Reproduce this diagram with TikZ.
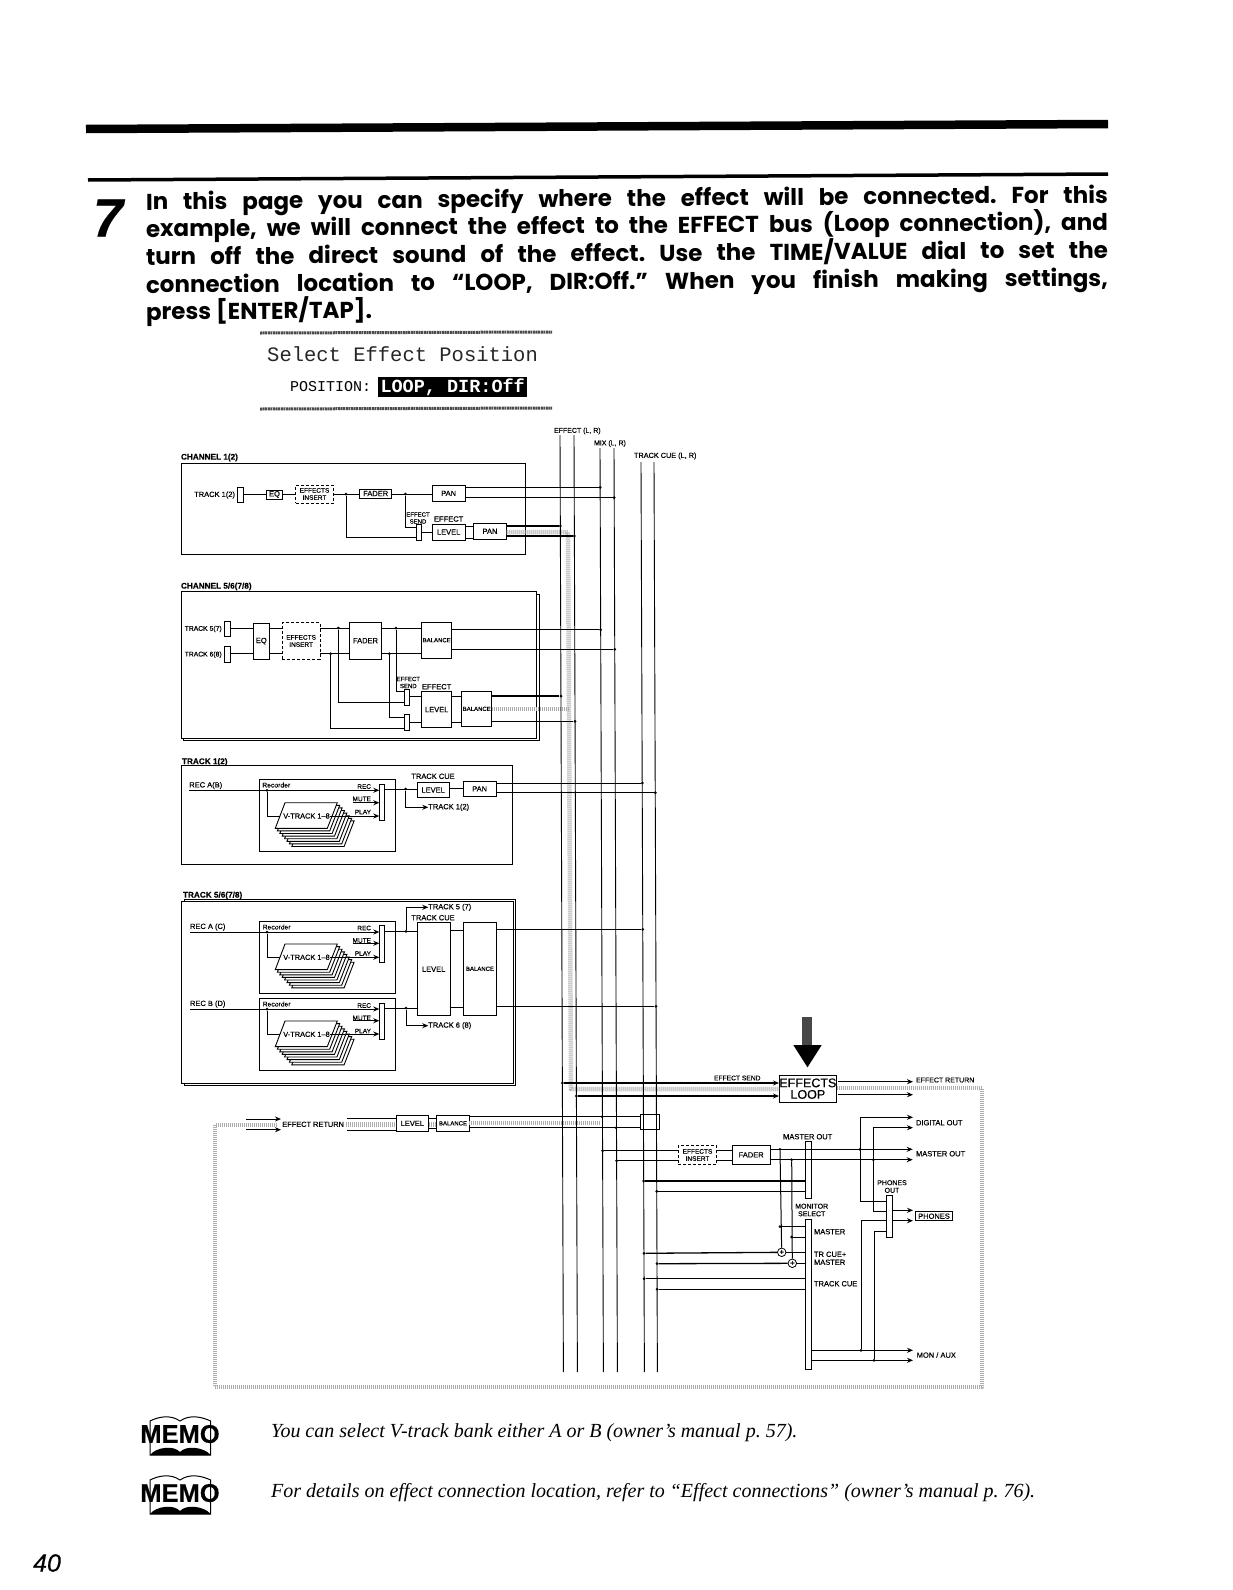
\documentclass[tikz,border=0pt]{standalone}
\usepackage{fontspec}
\setmainfont{Liberation Sans}[RawFeature={embolden=0.35}]
\newfontfamily\headfont{Poppins}
\newfontfamily\lcdfont{Liberation Mono}
\newfontfamily\memofont{Liberation Serif}
\usetikzlibrary{arrows.meta,calc}
\tikzset{
  wire/.style={draw=black,line width=1pt},
  wireh/.style={draw=black,line width=1.3pt},
  arw/.style={draw=black,line width=1pt,-{Stealth[length=6pt,width=5pt]}},
  boxs/.style={draw=black,line width=1pt,fill=white,inner sep=0pt,outer sep=0pt,align=center,font=\fontsize{7.5}{8}\selectfont},
  tiny/.style={font=\fontsize{6}{6.5}\selectfont},
  dashedbox/.style={densely dashed,line width=1pt,font=\fontsize{6.5}{7.2}\selectfont},
  frame/.style={draw=black,line width=1pt,fill=none},
  framew/.style={draw=black,line width=1pt,fill=white},
  lab/.style={inner sep=0pt,outer sep=0pt,anchor=west,align=left,font=\fontsize{7.5}{8}\selectfont},
  labs/.style={lab,align=center,anchor=center,font=\fontsize{6}{7}\selectfont},
  labt/.style={lab,font=\bfseries\fontsize{8.2}{9}\selectfont},
  dot/.style={circle,fill=black,inner sep=0pt,minimum size=3pt},
  band/.style={draw=black!32,line width=4.5pt,dash pattern=on .9pt off 1.1pt,line join=round},
  summer/.style={circle,draw=black,line width=.8pt,fill=white,inner sep=0pt,minimum size=8.5pt,font=\fontsize{8}{8}\selectfont},
  card/.style={draw=black,line width=.9pt,fill=white},
  headline/.style={inner sep=0pt,outer sep=0pt,anchor=base west,rotate=0.42,font=\headfont\bfseries\fontsize{23}{26}\selectfont},
  memoline/.style={inner sep=0pt,anchor=west,font=\memofont\itshape\fontsize{20}{22}\selectfont},
  vstack/.pic={
    \foreach \i in {7,6,...,1}
      \draw[card] ({\i*2.4},{\i*2.6}) -- ++(52.3,0) -- ++(-10,25.6) -- ++(-52.3,0) -- cycle;
    \draw[card] (0,0) -- (52.3,0) -- (42.3,25.6) -- (-9.7,25.6) -- cycle;
    \node[inner sep=0pt,font=\fontsize{7.4}{8}\selectfont] (-t) at (21.5,13.3) {V-TRACK 1--8};
  },
  memologo/.pic={
    \draw[line width=1pt] (0,38) -- (0,4) .. controls (8,0) and (20,-3) .. (30,4) .. controls (40,-3) and (52,0) .. (60.7,4) -- (60.7,38) -- cycle;
    \fill (0,38) .. controls (6,30) and (24,28) .. (30,35) .. controls (36,28) and (54,30) .. (60.7,38) -- cycle;
    \node[inner sep=0pt,font=\bfseries\fontsize{25.5}{25}\selectfont] (-t) at (30,17) {MEMO};
  }
}
\newcommand\bx[7][]{%
  \pgfmathsetmacro\bxcx{(#3+#5)/2}\pgfmathsetmacro\bxcy{(#4+#6)/2}%
  \pgfmathsetmacro\bxw{#5-#3}\pgfmathsetmacro\bxh{#6-#4}%
  \node[boxs,#1,minimum width=\bxw pt,minimum height=\bxh pt] (#2) at (\bxcx,\bxcy) {#7};}
\newcommand\lb[4][lab]{\node[#1] (#2) at (#3) {#4};}
\newcommand\jn[2]{\node[dot] (#1) at (#2) {};}
\begin{document}
\frenchspacing
\begin{tikzpicture}[x=1pt,y=-1pt]
\useasboundingbox (0,0) rectangle (1233,1590);

% page rules and heading
\coordinate (ruleA) at (86,129);\coordinate (ruleB) at (1108,124);
\coordinate (ruleC) at (88,180);\coordinate (ruleD) at (1108,174);
\draw[line width=8.5pt] (ruleA) -- (ruleB);
\draw[line width=3.5pt] (ruleC) -- (ruleD);
\node[inner sep=0pt,font=\bfseries\itshape\fontsize{54}{54}\selectfont] (seven) at (108,218) {7};
\node[headline] (hl1) at (146,210) {\makebox[962pt][s]{In this page you can specify where the effect will be connected. For this}};
\node[headline] (hl2) at (146,237) {\makebox[962pt][s]{example, we will connect the effect to the EFFECT bus (Loop connection), and}};
\node[headline] (hl3) at (146,265) {\makebox[962pt][s]{turn off the direct sound of the effect. Use the TIME/VALUE dial to set the}};
\node[headline] (hl4) at (146,293) {\makebox[962pt][s]{connection location to “LOOP, DIR:Off.” When you finish making settings,}};
\node[headline] (hl5) at (146,320) {press [ENTER/TAP].};

% LCD
\coordinate (lcdA) at (260,333);\coordinate (lcdB) at (552,332);
\coordinate (lcdC) at (260,409);\coordinate (lcdD) at (552,408);
\draw[line width=3pt,draw=black!70,dash pattern=on 2pt off .6pt] (lcdA) -- (lcdB);
\draw[line width=3pt,draw=black!70,dash pattern=on 2pt off .6pt] (lcdC) -- (lcdD);
\node[inner sep=0pt,anchor=west,font=\lcdfont\fontsize{20.5}{22}\selectfont,text=black!85] (lcd1) at (267,354) {Select Effect Position};
\node[inner sep=0pt,anchor=west,font=\lcdfont\fontsize{15}{16}\selectfont] (lcd2) at (290,387) {POSITION:};
\node[fill=black,text=white,inner sep=1.5pt,anchor=west,font=\lcdfont\bfseries\fontsize{18.5}{19}\selectfont,minimum height=15pt,minimum width=149pt] (lcd3) at (378,387) {LOOP, DIR:Off};

% bus labels
\lb[lab]{lbEff}{554,431}{\fontsize{7}{7.5}\selectfont EFFECT (L, R)}
\lb[lab]{lbMix}{594,443.5}{\fontsize{7}{7.5}\selectfont MIX (L, R)}
\lb[lab]{lbCue}{634,456}{\fontsize{7.3}{7.5}\selectfont TRACK CUE (L, R)}

% frames
\bx[framew]{fc1}{181}{463}{525}{554}{}
\lb[labt]{tc1}{181,457.5}{CHANNEL 1(2)}
\bx[framew]{fc5o}{183.5}{594}{539}{740.5}{}
\bx[framew]{fc5}{181}{591.7}{536.7}{738}{}
\lb[labt]{tc5}{181,586.5}{CHANNEL 5/6(7/8)}
\bx[framew]{ft1}{181}{765.7}{512.7}{864.3}{}
\lb[labt]{tt1}{182,762}{TRACK 1(2)}
\bx[framew]{ft5o}{184}{899}{515.7}{1085.5}{}
\bx[framew]{ft5}{181.7}{901.7}{513.3}{1083.3}{}
\lb[labt]{tt5}{183,895.5}{TRACK 5/6(7/8)}

% ---- CHANNEL 1
\coordinate (ca) at (0,494);\coordinate (cb) at (0,537.7);\coordinate (cc) at (0,527.3);\coordinate (cd) at (0,532);
\coordinate (ce) at (0,526);\coordinate (cf) at (0,538);
\lb[lab,anchor=east]{c1tl}{235,495}{TRACK 1(2)}
\bx{c1t}{237.7}{487}{243}{502}{}
\bx{c1eq}{266.7}{490}{282.3}{499}{EQ}
\bx[dashedbox]{c1ins}{295.7}{485}{333.3}{503}{EFFECTS\\INSERT}
\bx{c1fad}{359.7}{489}{391.7}{498}{FADER}
\bx{c1pan}{432.3}{485.7}{465}{501}{PAN}
\bx{c1sw}{416}{524.3}{421.7}{540}{}
\bx{c1lev}{432.3}{524}{465}{540}{LEVEL}
\bx{c1pan2}{473.3}{523.3}{506.7}{539.3}{PAN}
\lb[labs]{c1s}{418,518}{EFFECT\\SEND}
\lb[lab,anchor=center]{c1e}{448.7,519}{EFFECT}
\jn{c1j1}{346,494}\jn{c1j2}{405.3,494}
\draw[wire] (c1t.east|-ca) -- (c1eq.west|-ca);
\draw[wire] (c1eq.east|-ca) -- (c1ins.west|-ca);
\draw[wire] (c1ins.east|-ca) -- (c1fad.west|-ca);
\draw[wire] (c1fad.east|-ca) -- (c1pan.west|-ca);
\draw[wire] (c1j1) |- (c1sw.west|-cb);
\draw[wire] (c1j2) |- (c1sw.west|-cc);
\draw[wire] (c1sw.east|-cd) -- (c1lev.west|-cd);
\draw[wire] (c1lev.east|-ce) -- (c1pan2.west|-ce);
\draw[wire] (c1lev.east|-cf) -- (c1pan2.west|-cf);

% ---- CHANNEL 5/6
\coordinate (da) at (0,628);\coordinate (db) at (0,653.7);
\lb[lab,anchor=east]{c5tl}{221.7,629}{\fontsize{6.8}{7}\selectfont TRACK 5(7)}
\lb[lab,anchor=east]{c6tl}{221.7,654.7}{\fontsize{6.8}{7}\selectfont TRACK 6(8)}
\bx{c5t}{224}{621}{230}{636.7}{}
\bx{c6t}{224}{646.7}{230}{662.3}{}
\bx{c5eq}{253.3}{623}{269.3}{659.3}{EQ}
\bx[dashedbox]{c5ins}{282.3}{622.7}{320}{659.3}{EFFECTS\\INSERT}
\bx{c5fad}{349.3}{622.3}{381.7}{659}{FADER}
\bx[tiny]{c5bal}{421.7}{622}{451.7}{658.3}{BALANCE}
\bx{c5sa}{404.3}{689.3}{409.7}{705}{}
\bx{c5sb}{404.3}{714.7}{409.7}{730.3}{}
\bx{c5lev}{421.7}{691.7}{451.7}{727.3}{LEVEL}
\bx[tiny]{c5bal2}{461.7}{691}{491.7}{726.7}{BALANCE}
\lb[labs]{c5s}{408.3,682.5}{EFFECT\\SEND}
\lb[lab,anchor=center]{c5e}{436.7,686.7}{EFFECT}
\jn{c5j1}{338.3,628}\jn{c5j2}{330.7,653.7}\jn{c5j3}{396,628}\jn{c5j4}{389.3,653.7}
\coordinate (dc) at (0,691.7);\coordinate (dd) at (0,702.3);\coordinate (de) at (0,717.7);\coordinate (df) at (0,728);
\coordinate (dg) at (0,696.7);\coordinate (dh) at (0,722.3);
\draw[wire] (c5t.east|-da) -- (c5eq.west|-da);
\draw[wire] (c6t.east|-db) -- (c5eq.west|-db);
\draw[wire] (c5eq.east|-da) -- (c5ins.west|-da);
\draw[wire] (c5eq.east|-db) -- (c5ins.west|-db);
\draw[wire] (c5ins.east|-da) -- (c5fad.west|-da);
\draw[wire] (c5ins.east|-db) -- (c5fad.west|-db);
\draw[wire] (c5fad.east|-da) -- (c5bal.west|-da);
\draw[wire] (c5fad.east|-db) -- (c5bal.west|-db);
\draw[wire] (c5j3) |- (c5sa.west|-dc);
\draw[wire] (c5j1) |- (c5sa.west|-dd);
\draw[wire] (c5j4) |- (c5sb.west|-de);
\draw[wire] (c5j2) |- (c5sb.west|-df);
\draw[wire] (c5sa.east|-dg) -- (c5lev.west|-dg);
\draw[wire] (c5sb.east|-dh) -- (c5lev.west|-dh);
\draw[wire] (c5lev.east|-dg) -- (c5bal2.west|-dg);
\draw[wire] (c5lev.east|-dh) -- (c5bal2.west|-dh);

% ---- TRACK 1(2)
\lb[lab]{t1in}{189.3,785.5}{REC A(B)}
\bx{t1rec}{259}{779}{395.7}{851.7}{}
\lb[lab]{t1rl}{262.3,785}{\fontsize{6.8}{7}\selectfont Recorder}
\pic (t1st) at (285,802.7) {vstack};
\bx{t1bar}{379.3}{784.3}{384.7}{820.7}{}
\lb[lab,anchor=east]{t1r}{371,786.5}{\fontsize{6.5}{7}\selectfont REC}
\lb[lab,anchor=east]{t1m}{371,799}{\fontsize{6.5}{7}\selectfont MUTE}
\lb[lab,anchor=east]{t1p}{371,812}{\fontsize{6.5}{7}\selectfont PLAY}
\bx{t1lev}{417}{782.3}{449.3}{797.7}{LEVEL}
\bx{t1pan}{463.3}{781}{496}{796.7}{PAN}
\lb[lab,anchor=center]{t1c}{433,776.3}{TRACK CUE}
\lb[lab]{t1o}{428.3,807.3}{TRACK 1(2)}
\coordinate (ta) at (0,790.3);\coordinate (tb) at (0,802.7);\coordinate (tc) at (0,816);
\coordinate (tin) at (189.3,790.3);\coordinate (tm) at (352.7,802.7);\coordinate (tp) at (330,816);
\jn{t1j}{267,790.3}\jn{t1k}{405.7,789}
\coordinate (tcd) at (280,816);
\draw[arw] (tin) -- (t1bar.west|-ta);
\draw[arw] (tm) -- (t1bar.west|-tb);
\draw[arw] (tp) -- (t1bar.west|-tc);
\draw[wire] (t1j) |- (tcd);
\draw[wire] (t1bar.east|-t1k) -- (t1lev.west|-t1k);
\draw[arw] (t1k) |- (t1o.west);
\coordinate (tlp) at (0,788.3);
\draw[wire] (t1lev.east|-tlp) -- (t1pan.west|-tlp);

% ---- TRACK 5/6
\lb[lab]{t5in}{190,927}{REC A (C)}
\bx{t5rec}{259.3}{921.7}{395.7}{993.3}{}
\lb[lab]{t5rl}{262.7,927}{\fontsize{6.8}{7}\selectfont Recorder}
\pic (t5st) at (285,944) {vstack};
\bx{t5bar}{379.3}{925.7}{384.7}{962}{}
\lb[lab,anchor=east]{t5r}{371,928}{\fontsize{6.5}{7}\selectfont REC}
\lb[lab,anchor=east]{t5m}{371,940.5}{\fontsize{6.5}{7}\selectfont MUTE}
\lb[lab,anchor=east]{t5p}{371,953.5}{\fontsize{6.5}{7}\selectfont PLAY}
\lb[lab]{t6in}{190,1004}{REC B (D)}
\bx{t6rec}{259.3}{998}{395.7}{1070.3}{}
\lb[lab]{t6rl}{262.7,1004}{\fontsize{6.8}{7}\selectfont Recorder}
\pic (t6st) at (285,1021) {vstack};
\bx{t6bar}{379.3}{1003}{384.7}{1039.3}{}
\lb[lab,anchor=east]{t6r}{371,1005.5}{\fontsize{6.5}{7}\selectfont REC}
\lb[lab,anchor=east]{t6m}{371,1018}{\fontsize{6.5}{7}\selectfont MUTE}
\lb[lab,anchor=east]{t6p}{371,1031}{\fontsize{6.5}{7}\selectfont PLAY}
\bx{t5lev}{417.3}{922.7}{450}{1015.7}{LEVEL}
\bx[tiny]{t5bal}{463.3}{922.3}{496.7}{1015.3}{BALANCE}
\lb[lab,anchor=center]{t5c}{433,917.7}{TRACK CUE}
\lb[lab]{t5o}{428.3,907.3}{TRACK 5 (7)}
\lb[lab]{t6o}{428.3,1025.7}{TRACK 6 (8)}
\coordinate (ua) at (0,932);\coordinate (ub) at (0,943.3);\coordinate (uc) at (0,957.3);
\coordinate (va) at (0,1009);\coordinate (vb) at (0,1020.7);\coordinate (vc) at (0,1034);
\coordinate (uin) at (190,932);\coordinate (um) at (352.7,943.3);\coordinate (up) at (330,957.3);\coordinate (ucd) at (280,957.3);
\coordinate (vin) at (190,1009);\coordinate (vm) at (352.7,1020.7);\coordinate (vp) at (330,1034);\coordinate (vcd) at (280,1034);
\jn{t5j}{267,932}\jn{t6j}{267,1009}\jn{t5k}{406,931.3}\jn{t6k}{406,1008}
\draw[arw] (uin) -- (t5bar.west|-ua);
\draw[arw] (um) -- (t5bar.west|-ub);
\draw[arw] (up) -- (t5bar.west|-uc);
\draw[wire] (t5j) |- (ucd);
\draw[arw] (vin) -- (t6bar.west|-va);
\draw[arw] (vm) -- (t6bar.west|-vb);
\draw[arw] (vp) -- (t6bar.west|-vc);
\draw[wire] (t6j) |- (vcd);
\draw[wire] (t5bar.east|-t5k) -- (t5lev.west|-t5k);
\draw[wire] (t6bar.east|-t6k) -- (t5lev.west|-t6k);
\draw[arw] (t5k) |- (t5o.west);
\draw[arw] (t6k) |- (t6o.west);
\coordinate (ug) at (0,930.3);\coordinate (vg) at (0,1007.3);
\draw[wire] (t5lev.east|-ug) -- (t5bal.west|-ug);
\draw[wire] (t5lev.east|-vg) -- (t5bal.west|-vg);

% ---- return section and right part boxes
\bx{rlev}{396}{1115.7}{428.7}{1131}{LEVEL}
\bx[tiny]{rbal}{436.7}{1115.7}{469.3}{1131}{BALANCE}
\bx{rbox}{640.7}{1114}{659.3}{1129.3}{}
\lb[lab]{rlab}{282.3,1124.3}{\fontsize{7.4}{7.5}\selectfont EFFECT RETURN}
\bx[font=\fontsize{12.5}{11.5}\selectfont]{loop}{779}{1075}{836.7}{1102.3}{EFFECTS\\LOOP}
\bx[dashedbox]{mins}{678.3}{1145.7}{716.7}{1164.3}{EFFECTS\\INSERT}
\bx{mfad}{732.3}{1145.7}{770}{1164}{FADER}
\bx{mbar}{805}{1141.7}{811}{1198.3}{}
\bx{sbar}{805.7}{1219.3}{811.7}{1369}{}
\bx{pbar}{886.3}{1195.3}{892.3}{1237}{}
\bx{phbox}{915.7}{1211.7}{952.3}{1220.7}{PHONES}
\lb[lab,anchor=center]{mol}{807.7,1136.7}{MASTER OUT}
\lb[labs,font=\fontsize{7}{7.6}\selectfont]{msl}{811.7,1210}{MONITOR\\SELECT}
\lb[labs,font=\fontsize{7}{7.6}\selectfont]{pol}{892,1186.5}{PHONES\\OUT}
\lb[lab]{ml1}{814,1231.7}{MASTER}
\lb[lab,align=left]{ml2}{814,1258.3}{TR CUE+\\MASTER}
\lb[lab]{ml3}{814,1283.7}{TRACK CUE}
\lb[lab]{o1}{916,1080}{\fontsize{7}{7.5}\selectfont EFFECT RETURN}
\lb[lab]{o2}{916,1122.7}{DIGITAL OUT}
\lb[lab]{o3}{916,1153.7}{MASTER OUT}
\lb[lab]{o4}{916.7,1355}{MON / AUX}
\lb[lab]{esl}{714,1078}{\fontsize{6.7}{7}\selectfont EFFECT SEND}

% big arrow
\fill[black!72] (802.3,1016.7) rectangle (812.3,1046);
\fill[black] (793.3,1045) -- (821.7,1045) -- (807.5,1067.3) -- cycle;

% ---- halftone bands
\coordinate (bd1) at (0,532);\coordinate (bv1) at (568,532);\coordinate (bv2) at (571,1089);\coordinate (by2) at (0,1089);
\coordinate (bd3) at (0,709);\coordinate (bv3) at (568.6,709);
\coordinate (be1) at (982,1088);\coordinate (be2) at (982,1387);\coordinate (be3) at (215,1387);\coordinate (be4) at (215,1125);\coordinate (be5) at (277,1125);
\coordinate (bf1) at (346,1124.5);\coordinate (bf2) at (600,1123);
\draw[band] (c1pan2.east|-bd1) -- (bv1) -- (bv2) -- (loop.west|-by2);
\draw[band] (c5bal2.east|-bd3) -- (bv3);
\draw[band] (loop.east|-be1) -- (be1) -- (be2) -- (be3) -- (be4) -- (be5);
\draw[band] (bf1) -- (rlev.west|-bf1);
\draw[band] (rlev.east|-bf1) -- (rbal.west|-bf1);
\draw[band] (rbal.east|-bf2) -- (bf2);

% ---- buses
\coordinate (eLt) at (560,435);\coordinate (eLb) at (563.4,1372);
\coordinate (eRt) at (574,435);\coordinate (eRb) at (577.4,1372);
\coordinate (mLt) at (600,448);\coordinate (mLb) at (603.4,1372);
\coordinate (mRt) at (614,448);\coordinate (mRb) at (617.4,1372);
\coordinate (cLt) at (641,462);\coordinate (cLb) at (644.4,1372);
\coordinate (cRt) at (654,462);\coordinate (cRb) at (657.4,1372);
\draw[wire,line width=.9pt] (eLt) -- (eLb);
\draw[wire,line width=.9pt] (eRt) -- (eRb);
\draw[wire,line width=.9pt] (mLt) -- (mLb);
\draw[wire,line width=.9pt] (mRt) -- (mRb);
\draw[wire,line width=.9pt] (cLt) -- (cLb);
\draw[wire,line width=.9pt] (cRt) -- (cRb);

% ---- bus connections
\jn{b1}{600.2,487.3}\jn{b2}{614.2,497.7}\jn{b3}{560.4,526}\jn{b4}{574.4,536}
\draw[wireh] (c1pan.east|-b1) -- (b1);
\draw[wireh] (c1pan.east|-b2) -- (b2);
\draw[wireh] (c1pan2.east|-b3) -- (b3);
\draw[wireh] (c1pan2.east|-b4) -- (b4);
\jn{b5}{600.7,629.7}\jn{b6}{614.8,649.3}\jn{b7}{561,696}\jn{b8}{575,721.3}
\draw[wireh] (c5bal.east|-b5) -- (b5);
\draw[wireh] (c5bal.east|-b6) -- (b6);
\draw[wireh] (c5bal2.east|-b7) -- (b7);
\draw[wireh] (c5bal2.east|-b8) -- (b8);
\jn{b9}{642.3,783}\jn{b10}{655.3,792.7}\jn{b11}{642.8,929.3}\jn{b12}{656,1006.3}
\draw[wire] (t1pan.east|-b9) -- (b9);
\draw[wire] (t1pan.east|-b10) -- (b10);
\draw[wireh] (t5bal.east|-b11) -- (b11);
\draw[wireh] (t5bal.east|-b12) -- (b12);
\jn{b13}{562.4,1083}\jn{b14}{576.4,1096}
\draw[arw,line width=1.3pt] (b13) -- (loop.west|-b13);
\draw[arw,line width=1.3pt] (b14) -- (loop.west|-b14);
\coordinate (la) at (0,1116.7);\coordinate (lb) at (0,1127.7);
\jn{b15}{602.2,1116.7}\jn{b16}{616.2,1127.7}
\draw[wireh] (rbal.east|-la) -- (rbox.west|-la);
\draw[wireh] (rbal.east|-lb) -- (rbox.west|-lb);
\coordinate (lc) at (0,1118.3);\coordinate (ld) at (0,1130);\coordinate (rs) at (346.7,0);
\draw[wire] (rs|-lc) -- (rlev.west|-lc);
\draw[wire] (rs|-ld) -- (rlev.west|-ld);
\coordinate (re1) at (246,1119);\coordinate (re2) at (281,1119);\coordinate (re3) at (246,1129.7);\coordinate (re4) at (281,1129.7);
\draw[arw] (re1) -- (re2);
\draw[arw] (re3) -- (re4);
\coordinate (ln) at (0,1118);\coordinate (lm) at (0,1128);
\draw[wire] (rlev.east|-ln) -- (rbal.west|-ln);
\draw[wire] (rlev.east|-lm) -- (rbal.west|-lm);

% ---- master section
\jn{m1}{602.6,1150.7}\jn{m2}{616.6,1160.7}
\draw[wireh] (m1) -- (mins.west|-m1);
\draw[wireh] (m2) -- (mins.west|-m2);
\draw[wire] (mins.east|-m1) -- (mfad.west|-m1);
\draw[wire] (mins.east|-m2) -- (mfad.west|-m2);
\coordinate (mo1) at (912.7,1149.3);\coordinate (mo2) at (912.7,1159.7);
\draw[arw,line width=1.2pt] (mfad.east|-mo1) -- (mo1);
\draw[arw,line width=1.2pt] (mfad.east|-mo2) -- (mo2);
\node[summer] (s1) at (781.7,1252.3) {+};
\node[summer] (s2) at (792.3,1263.3) {+};
\jn{m3}{780,1149.3}\jn{m4}{791.7,1159.7}
\jn{m5}{780,1226.7}\jn{m6}{791.7,1237}
\draw[wire] (m3) -- (s1);
\draw[wire] (m4) -- (s2);
\draw[wire] (m5) -- (sbar.west|-m5);
\draw[wire] (m6) -- (sbar.west|-m6);
\jn{m7}{643.7,1181}\jn{m8}{656.7,1191.3}\jn{m9}{644,1253.3}\jn{m10}{657,1263.7}\jn{m11}{644.1,1278.7}\jn{m12}{657.1,1289.3}
\draw[wireh] (m7) -- (mbar.west|-m7);
\draw[wireh] (m8) -- (mbar.west|-m8);
\draw[wireh] (m9) -- (s1);
\draw[wire] (s1) -- (sbar.west|-s1);
\draw[wireh] (m10) -- (s2);
\draw[wire] (s2) -- (sbar.west|-s2);
\draw[wireh] (m11) -- (sbar.west|-m11);
\draw[wireh] (m12) -- (sbar.west|-m12);
% outputs
\coordinate (x1) at (913,1350.3);\coordinate (x2) at (913,1360.3);
\draw[arw,line width=1.2pt] (sbar.east|-x1) -- (x1);
\draw[arw,line width=1.2pt] (sbar.east|-x2) -- (x2);
\jn{n1}{861,1350.3}\jn{n2}{874,1360.3}
\coordinate (pa) at (0,1220.7);\coordinate (pb) at (0,1231.7);\coordinate (pc) at (0,1210.3);
\draw[wire] (n1) |- (pbar.west|-pa);
\draw[wire] (n2) |- (pbar.west|-pb);
\coordinate (q1) at (913,1210.3);\coordinate (q2) at (913,1220.7);
\draw[arw] (pbar.east|-q1) -- (q1);
\draw[arw] (pbar.east|-q2) -- (q2);
\coordinate (pd) at (0,1201);\coordinate (pe) at (0,1211.3);
\coordinate (dg1) at (860,1117.3);\coordinate (dg2) at (913,1117.3);\coordinate (dg3) at (873.3,1127.7);\coordinate (dg4) at (913,1127.7);
\draw[wire] (pbar.west|-pd) -| (dg1);
\draw[wire] (pbar.west|-pe) -| (dg3);
\draw[arw] (dg1) -- (dg2);
\draw[arw] (dg3) -- (dg4);
\jn{k1}{860,1149.3}\jn{k2}{873.3,1159.7}
\coordinate (y1) at (838,1081.7);\coordinate (y2) at (913,1081.7);\coordinate (y3) at (838,1094.7);\coordinate (y4) at (913,1094.7);
\draw[arw,line width=1.2pt] (y1) -- (y2);
\draw[arw,line width=1.2pt] (y3) -- (y4);

% memos
\pic (memoA) at (150,1417) {memologo};
\pic (memoB) at (150,1476) {memologo};
\node[memoline] (memA) at (271,1433) {You can select V-track bank either A or B (owner’s manual p. 57).};
\node[memoline] (memB) at (271,1493) {For details on effect connection location, refer to “Effect connections” (owner’s manual p. 76).};
\node[inner sep=0pt,anchor=center,font=\itshape\fontsize{25}{26}\selectfont] (pageno) at (47,1563) {40};
\end{tikzpicture}
\end{document}
